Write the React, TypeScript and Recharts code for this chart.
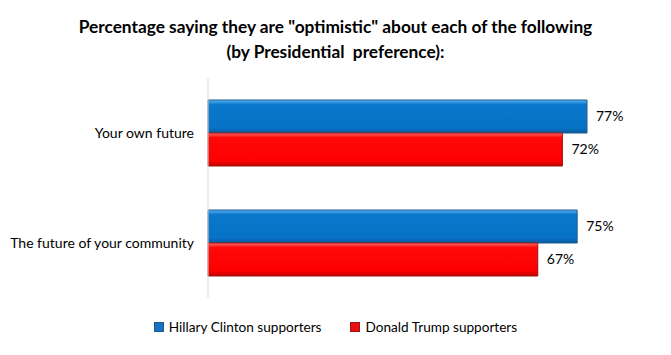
import { BarChart, Bar, XAxis, YAxis, LabelList } from "recharts";

// survey items and % optimistic per supporter group
const CATEGORIES = ["Your own future", "The future of your community"];
const CLINTON = [77, 75];
const TRUMP = [72, 67];

const SERIES = [
  { key: "clinton", name: "Hillary Clinton supporters", grad: "gradBlue", stroke: "#1b5d92", swatch: "#1872c0" },
  { key: "trump", name: "Donald Trump supporters", grad: "gradRed", stroke: "#a31212", swatch: "#e81010" },
];

const data = CATEGORIES.map((name, i) => ({
  name,
  clinton: CLINTON[i],
  trump: TRUMP[i],
}));

const FONT = "Lato, 'Open Sans', sans-serif";

const fmt = (v: number) => `${v}%`;

export default function App() {
  return (
    <div style={{ position: "relative", width: 671, height: 355, background: "#fff", fontFamily: FONT }}>
      <style>{`body{margin:0}`}</style>
      <div
        style={{
          position: "absolute",
          top: 14,
          left: 0,
          width: 671,
          textAlign: "center",
          fontWeight: 700,
          fontSize: 17.3,
          lineHeight: "25px",
          color: "#000",
        }}
      >
        Percentage saying they are "optimistic" about each of the following
        <br />
        (by Presidential&nbsp; preference):
      </div>

      <BarChart
        width={671}
        height={355}
        data={data}
        layout="vertical"
        margin={{ top: 78, right: 20, bottom: 57, left: 0 }}
        barGap={0}
        barCategoryGap="20%"
      >
        <defs>
          <linearGradient id="gradBlue" x1="0" y1="0" x2="0" y2="1">
            <stop offset="0%" stopColor="#5ab2f0" />
            <stop offset="14%" stopColor="#0a78cc" />
            <stop offset="85%" stopColor="#0772c6" />
            <stop offset="100%" stopColor="#0a5a9a" />
          </linearGradient>
          <linearGradient id="gradRed" x1="0" y1="0" x2="0" y2="1">
            <stop offset="0%" stopColor="#ff6a6a" />
            <stop offset="14%" stopColor="#ff0808" />
            <stop offset="85%" stopColor="#fd0000" />
            <stop offset="100%" stopColor="#c00000" />
          </linearGradient>
        </defs>
        <XAxis type="number" domain={[0, 90]} hide />
        <YAxis
          type="category"
          dataKey="name"
          width={208}
          tickLine={false}
          tickSize={0}
          tickMargin={14}
          axisLine={{ stroke: "#d9d9d9" }}
          tick={{ fontSize: 14, fill: "#000", fontFamily: FONT }}
        />
        {SERIES.map((s) => (
          <Bar
            key={s.key}
            dataKey={s.key}
            name={s.name}
            barSize={33}
            fill={`url(#${s.grad})`}
            stroke={s.stroke}
            strokeWidth={1}
            isAnimationActive={false}
          >
            <LabelList
              dataKey={s.key}
              position="right"
              offset={9}
              formatter={fmt}
              style={{ fontSize: 14, fill: "#000", fontFamily: FONT }}
            />
          </Bar>
        ))}
      </BarChart>

      <div
        style={{
          position: "absolute",
          top: 319,
          left: 0,
          width: 671,
          display: "flex",
          justifyContent: "center",
          gap: 29,
          fontSize: 13.6,
          color: "#000",
        }}
      >
        {SERIES.map((s) => (
          <div key={s.key} style={{ display: "flex", alignItems: "center" }}>
            <span
              style={{
                display: "inline-block",
                width: 8,
                height: 8,
                background: s.swatch,
                border: `1px solid ${s.stroke}`,
                marginRight: 5,
              }}
            />
            {s.name}
          </div>
        ))}
      </div>
    </div>
  );
}
